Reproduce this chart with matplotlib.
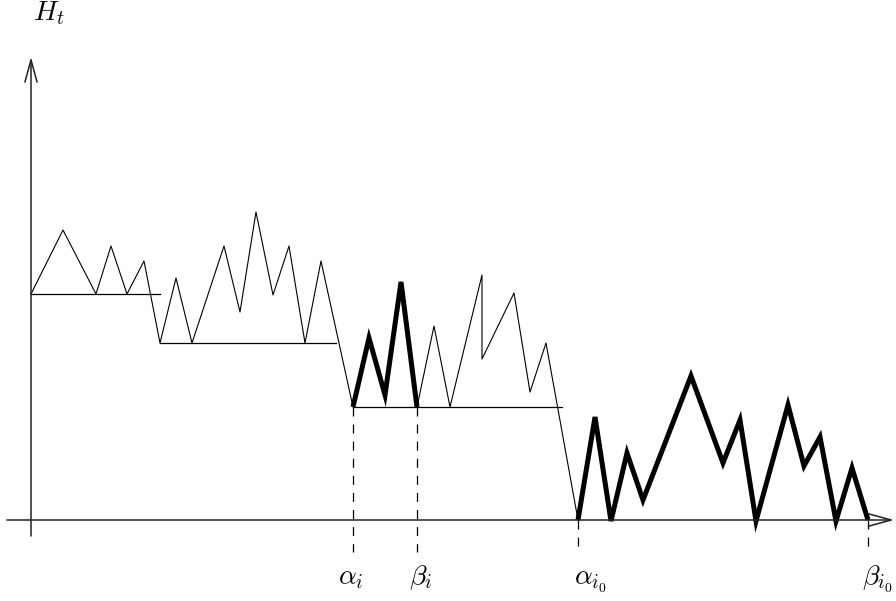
import matplotlib
matplotlib.use("Agg")
import matplotlib.pyplot as plt

plt.rcParams['mathtext.fontset'] = 'cm'
plt.rcParams['lines.scale_dashes'] = False

# sample path of the height process H_t (t, H)
t_path = [0, 32, 65, 80, 96, 113, 129, 145, 161, 193, 209, 225, 242, 258, 274,
          290, 322, 338, 354, 370, 386, 403, 419, 451, 451, 483, 499, 515, 547]
h_path = [226, 290, 226, 274, 226, 259, 177, 242, 177, 274, 208, 308, 225, 274, 177,
          259, 113, 182, 125, 238, 113, 194, 113, 245, 161, 227, 128, 177, 0]

# excursion between alpha_i and beta_i (bold)
t_exc1 = [322, 338, 354, 370, 386]
h_exc1 = [113, 182, 125, 238, 113]

# excursion between alpha_i0 and beta_i0 (bold)
t_exc2 = [547, 564, 580, 596, 612, 660, 692, 709, 725, 757, 773, 789, 805, 821, 837]
h_exc2 = [0, 103, -1, 67, 20, 144, 57, 100, -1, 115, 54, 83, -1, 52, 0]

# running minimum levels: (level, t start, t end)
levels = [226, 177, 113]
level_start = [0, 129, 322]
level_end = [129, 305, 531]

# marked times
mark_t = [322, 386, 547, 837]
mark_top = [113, 113, 0, 0]
mark_labels = [r'$\alpha_i$', r'$\beta_i$', r'$\alpha_{i_0}$', r'$\beta_{i_0}$']
label_shift = [-2, 4, 12, 9]

fig = plt.figure(figsize=(8.96, 6.01), dpi=100)
ax = fig.add_axes([0, 0, 1, 1])
ax.set_xlim(-31, 865)
ax.set_ylim(-81, 520)
ax.axis('off')

# axes with open arrow heads
arrow = dict(arrowstyle='->,head_length=0.8,head_width=0.22', mutation_scale=20,
             color='#222222', lw=1.1, shrinkA=0, shrinkB=0)
ax.annotate('', xy=(0, 463), xytext=(0, -16), arrowprops=arrow)
ax.annotate('', xy=(863, 0), xytext=(-24, 0), arrowprops=arrow)

for lev, a, b in zip(levels, level_start, level_end):
    ax.plot([a, b], [lev, lev], color='black', lw=0.9)

ax.plot(t_path, h_path, color='black', lw=0.8)
ax.plot(t_exc1, h_exc1, color='black', lw=3.6, solid_joinstyle='miter',
        solid_capstyle='butt')
ax.plot(t_exc2, h_exc2, color='black', lw=3.6, solid_joinstyle='miter',
        solid_capstyle='butt')

for x, top, lab, dx in zip(mark_t, mark_top, mark_labels, label_shift):
    ax.plot([x, x], [top, -32], color='black', lw=0.9,
            linestyle=(0, (6.5, 5.8)))
    ax.text(x + dx, -64, lab, ha='center', va='baseline', fontsize=20)

ax.text(2, 500, r'$H_t$', ha='left', va='baseline', fontsize=20)

fig.savefig('out.png', dpi=100)
